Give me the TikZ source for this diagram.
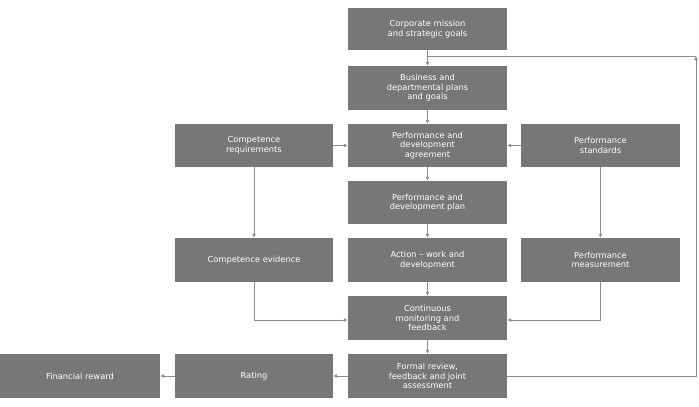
\documentclass[tikz,border=0pt]{standalone}
\usepackage{fontspec}
\setmainfont{DejaVu Sans}
\begin{document}
\begin{tikzpicture}[x=1pt,y=-1pt,
  box/.style={fill=boxgray,text=white,inner sep=0pt,align=center,font=\fontsize{8.3}{9.5}\selectfont},
  arr/.style={draw=linegray,line width=0.9pt,-{Latex[length=4pt,width=4pt]}},
  ln/.style={draw=linegray,line width=0.9pt}]
\usetikzlibrary{arrows.meta}
\definecolor{boxgray}{HTML}{777777}
\definecolor{linegray}{HTML}{8C8C8C}
\useasboundingbox (0,0) rectangle (699,407);
\newcommand{\bx}[6]{\node[box,minimum width=#4-#2,minimum height=#5-#3] (#1) at ({(#2+#4)/2},{(#3+#5)/2}) {#6};}
\bx{cm}{348}{8}{507}{50}{Corporate mission\\and strategic goals}
\bx{bd}{348}{66}{507}{110}{Business and\\departmental plans\\and goals}
\bx{pa}{348}{124}{507}{167}{Performance and\\development\\agreement}
\bx{pp}{348}{181}{507}{224}{Performance and\\development plan}
\bx{aw}{348}{238}{507}{282}{Action – work and\\development}
\bx{cf}{348}{296}{507}{340}{Continuous\\monitoring and\\feedback}
\bx{fr}{348}{354}{507}{398}{Formal review,\\feedback and joint\\assessment}
\bx{cr}{175}{124}{333}{167}{Competence\\requirements}
\bx{ce}{175}{238}{333}{282}{Competence evidence}
\bx{ra}{175}{354}{333}{398}{Rating}
\bx{fi}{0}{354}{160}{398}{Financial reward}
\bx{ps}{521}{124}{680}{167}{Performance\\standards}
\bx{pm}{521}{238}{680}{282}{Performance\\measurement}
\draw[arr] (cm) -- (bd);
\draw[arr] (bd) -- (pa);
\draw[arr] (pa) -- (pp);
\draw[arr] (pp) -- (aw);
\draw[arr] (aw) -- (cf);
\draw[arr] (cf) -- (fr);
\draw[arr] (cr) -- (pa);
\draw[arr] (ps) -- (pa);
\draw[arr] (cr) -- (ce);
\draw[arr] (ps) -- (pm);
\draw[arr] (ce.south) |- (cf.west |- 0,320);
\draw[arr] (pm.south) |- (cf.east |- 0,320);
\draw[arr] (fr) -- (ra);
\draw[arr] (ra) -- (fi);
\coordinate (c1) at (696,56);
\coordinate (c2) at (427,56);
\draw[arr] (fr.east) -| (c1);
\draw[ln] (c1) -- (c2);
\end{tikzpicture}
\end{document}
